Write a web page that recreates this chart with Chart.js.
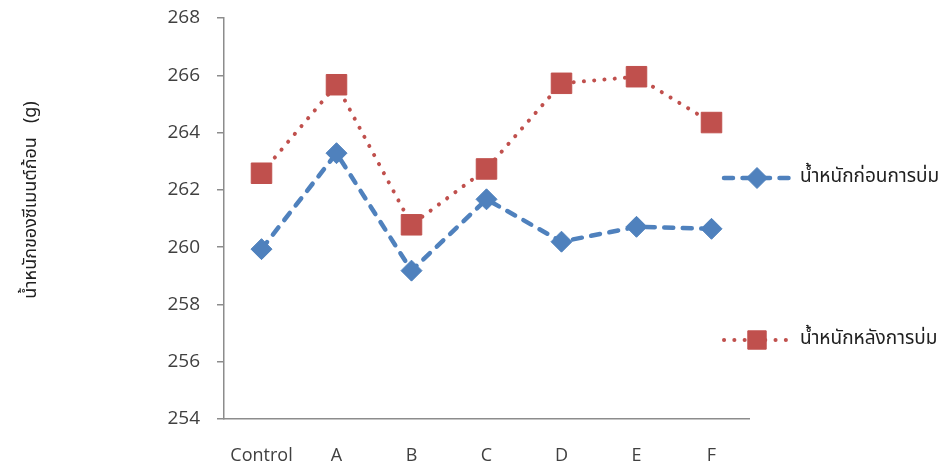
<!DOCTYPE html>
<html>
<head>
<meta charset="utf-8">
<script src="https://cdn.jsdelivr.net/npm/chart.js@4"></script>
<style>
  html, body { margin: 0; padding: 0; background: #ffffff; }
  #wrap { width: 949px; height: 464px; position: relative; }
</style>
</head>
<body>
<div id="wrap"><canvas id="c" width="949" height="464"></canvas></div>
<script>
// Treatment groups
const categories = ['Control', 'A', 'B', 'C', 'D', 'E', 'F'];
// Weight before curing (g)
const beforeCuring = [259.93, 263.28, 259.18, 261.67, 260.19, 260.71, 260.64];
// Weight after curing (g)
const afterCuring = [262.58, 265.67, 260.78, 262.73, 265.72, 265.95, 264.35];
const seriesNames = ['น้ำหนักก่อนการบ่ม', 'น้ำหนักหลังการบ่ม'];
const yTitle = 'น้ำหนักของซีเมนต์ก้อน   (g)';
const yMin = 254, yMax = 268, yStep = 2;

const BLUE = '#4F81BD';
const RED = '#C0504D';
const TEXT = '#404040';
const AXIS = '#8C8C8C';
const LATIN = "'Open Sans', 'Noto Sans', sans-serif";
const THAI = "'Noto Sans Thai', 'Leelawadee UI', Tahoma, 'DejaVu Sans', sans-serif";

// Side legend and rotated y title, drawn after the chart
const sideDecor = {
  id: 'sideDecor',
  afterDraw(chart) {
    const ctx = chart.ctx;
    const rows = [
      { ds: chart.data.datasets[0], y: 178 },
      { ds: chart.data.datasets[1], y: 340 }
    ];
    rows.forEach(r => {
      const ds = r.ds;
      ctx.save();
      ctx.strokeStyle = ds.borderColor;
      ctx.lineWidth = ds.borderWidth;
      ctx.lineCap = ds.borderCapStyle || 'butt';
      ctx.setLineDash(ds.borderDash || []);
      ctx.beginPath();
      ctx.moveTo(724, r.y);
      ctx.lineTo(792, r.y);
      ctx.stroke();
      ctx.restore();
      ctx.save();
      ctx.fillStyle = ds.pointBackgroundColor;
      ctx.strokeStyle = ds.pointBorderColor;
      ctx.lineWidth = 1;
      Chart.helpers.drawPoint(ctx, {
        pointStyle: ds.pointStyle,
        rotation: 0,
        radius: ds.pointStyle === 'rect' ? 13 : 10.5,
        borderWidth: 1
      }, 757, r.y);
      ctx.restore();
      ctx.save();
      ctx.fillStyle = '#202020';
      ctx.font = '19px ' + THAI;
      ctx.textAlign = 'left';
      ctx.textBaseline = 'middle';
      ctx.fillText(ds.label, 800, r.y);
      ctx.restore();
    });
    ctx.save();
    ctx.translate(32, 200);
    ctx.rotate(-Math.PI / 2);
    ctx.fillStyle = '#202020';
    ctx.font = '18px ' + THAI;
    ctx.textAlign = 'center';
    ctx.textBaseline = 'middle';
    ctx.fillText(yTitle, 0, 0);
    ctx.restore();
  }
};

new Chart(document.getElementById('c'), {
  type: 'line',
  data: {
    labels: categories,
    datasets: [
      {
        label: seriesNames[0],
        data: beforeCuring,
        borderColor: BLUE,
        backgroundColor: BLUE,
        borderWidth: 4.5,
        borderDash: [9, 9.5],
        borderCapStyle: 'round',
        tension: 0,
        fill: false,
        pointStyle: 'rectRot',
        pointRadius: 10.5,
        pointHoverRadius: 10.5,
        pointBackgroundColor: BLUE,
        pointBorderColor: BLUE,
        pointBorderWidth: 1
      },
      {
        label: seriesNames[1],
        data: afterCuring,
        borderColor: RED,
        backgroundColor: RED,
        borderWidth: 4,
        borderDash: [0.1, 10.2],
        borderCapStyle: 'round',
        tension: 0,
        fill: false,
        pointStyle: 'rect',
        pointRadius: 14.5,
        pointHoverRadius: 14.5,
        pointBackgroundColor: RED,
        pointBorderColor: RED,
        pointBorderWidth: 1
      }
    ]
  },
  options: {
    responsive: false,
    animation: false,
    events: [],
    layout: { padding: { left: 0, right: 200, top: 18, bottom: 0 } },
    plugins: {
      legend: { display: false },
      tooltip: { enabled: false },
      title: { display: false }
    },
    scales: {
      x: {
        type: 'category',
        offset: true,
        grid: { display: false },
        border: { display: true, color: AXIS, width: 1.5 },
        ticks: {
          color: TEXT,
          font: { family: LATIN, size: 18 },
          padding: 18,
          maxRotation: 0
        },
        afterFit(scale) { scale.height = 45; }
      },
      y: {
        min: yMin,
        max: yMax,
        grid: {
          drawOnChartArea: false,
          drawTicks: true,
          tickLength: 7,
          color: AXIS,
          lineWidth: 1.5
        },
        border: { display: true, color: AXIS, width: 1.5 },
        ticks: {
          stepSize: yStep,
          color: TEXT,
          font: { family: LATIN, size: 19 },
          padding: 17
        },
        afterFit(scale) {
          scale.width = 224;
          scale.paddingTop = 0;
          scale.paddingBottom = 0;
        }
      }
    }
  },
  plugins: [sideDecor]
});
</script>
</body>
</html>
